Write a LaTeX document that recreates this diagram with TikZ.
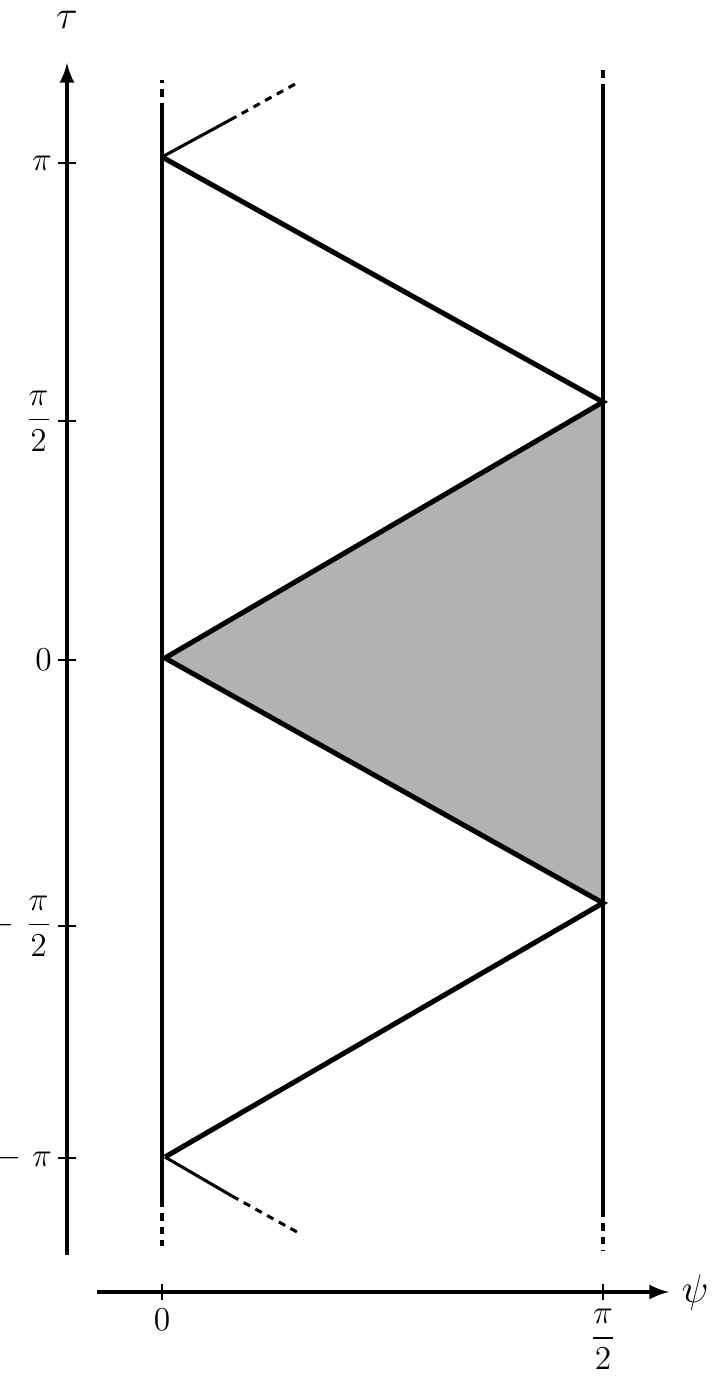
\documentclass[tikz,border=0pt]{standalone}
\usepackage{amsmath}
\usetikzlibrary{positioning}

\begin{document}
\begin{tikzpicture}[x=0.0126cm, y=-0.0126cm, >=latex,
    axis/.style={line width=1.4pt},
    wall/.style={line width=1.4pt},
    ray/.style={line width=1.8pt},
    stub/.style={line width=1.1pt},
    tick/.style={line width=0.6pt},
    dots/.style={dash pattern=on 2.6pt off 2.2pt},
    every node/.style={font=\large}]

\useasboundingbox (0,0) rectangle (718,1378);

% corners of the zig-zag
\foreach \n/\x/\y in {a/162/157, b/603/402, c/165/658, d/603/903, e/165/1157}
    \coordinate (v-\n) at (\x, \y);

\fill [black!30] (v-c) -- (v-b) -- (v-d) -- cycle;

% axes
\coordinate (tau-from) at (67, 1255);
\coordinate (tau-to) at (67, 63);
\coordinate (psi-from) at (97, 1292);
\coordinate (psi-to) at (669, 1292);
\draw [axis, ->] (tau-from) -- (tau-to);
\draw [axis, ->] (psi-from) -- (psi-to);
\node [font=\Large] (tau) at (67, 20) {$\tau$};
\node [font=\Large] (psi) at (695, 1292) {$\psi$};

\foreach \l/\y [count=\i] in {\pi/163, \dfrac{\pi}{2}/421, 0/660,
        -\ \dfrac{\pi}{2}/926, -\ \pi/1158} {
    \coordinate (tau-tick-\i) at (67, \y);
    \draw [tick] (tau-tick-\i) ++(-9, 0) -- ++(18, 0);
    \node [left, inner sep=2pt] (tau-label-\i) at (58, \y) {$\l$};
}

\foreach \l/\x [count=\i] in {0/162, \dfrac{\pi}{2}/603} {
    \coordinate (psi-tick-\i) at (\x, 1292);
    \draw [tick] (psi-tick-\i) ++(0, -8) -- ++(0, 16);
    \node [below, inner sep=1pt] (psi-label-\i) at (\x, 1306) {$\l$};
}

% the two walls
\coordinate (left-top) at (162, 110);
\coordinate (left-bot) at (162, 1200);
\coordinate (right-top) at (603, 91);
\coordinate (right-bot) at (603, 1210);
\draw [wall] (left-top) -- (left-bot);
\draw [wall] (right-top) -- (right-bot);
\draw [wall, dots] (left-top) -- (162, 80);
\draw [wall, dots] (left-bot) -- (162, 1246);
\draw [wall, dots] (right-top) -- (603, 66);
\draw [wall, dots] (right-bot) -- (603, 1251);

% light rays
\draw [ray, line join=miter] (v-a) -- (v-b) -- (v-c) -- (v-d) -- (v-e);

\coordinate (up-mid) at (230, 120);
\coordinate (up-end) at (297, 83);
\coordinate (down-mid) at (232, 1196);
\coordinate (down-end) at (297, 1232);
\draw [stub] (v-a) -- (up-mid);
\draw [stub, dots] (up-mid) -- (up-end);
\draw [stub] (v-e) -- (down-mid);
\draw [stub, dots] (down-mid) -- (down-end);

\end{tikzpicture}
\end{document}
